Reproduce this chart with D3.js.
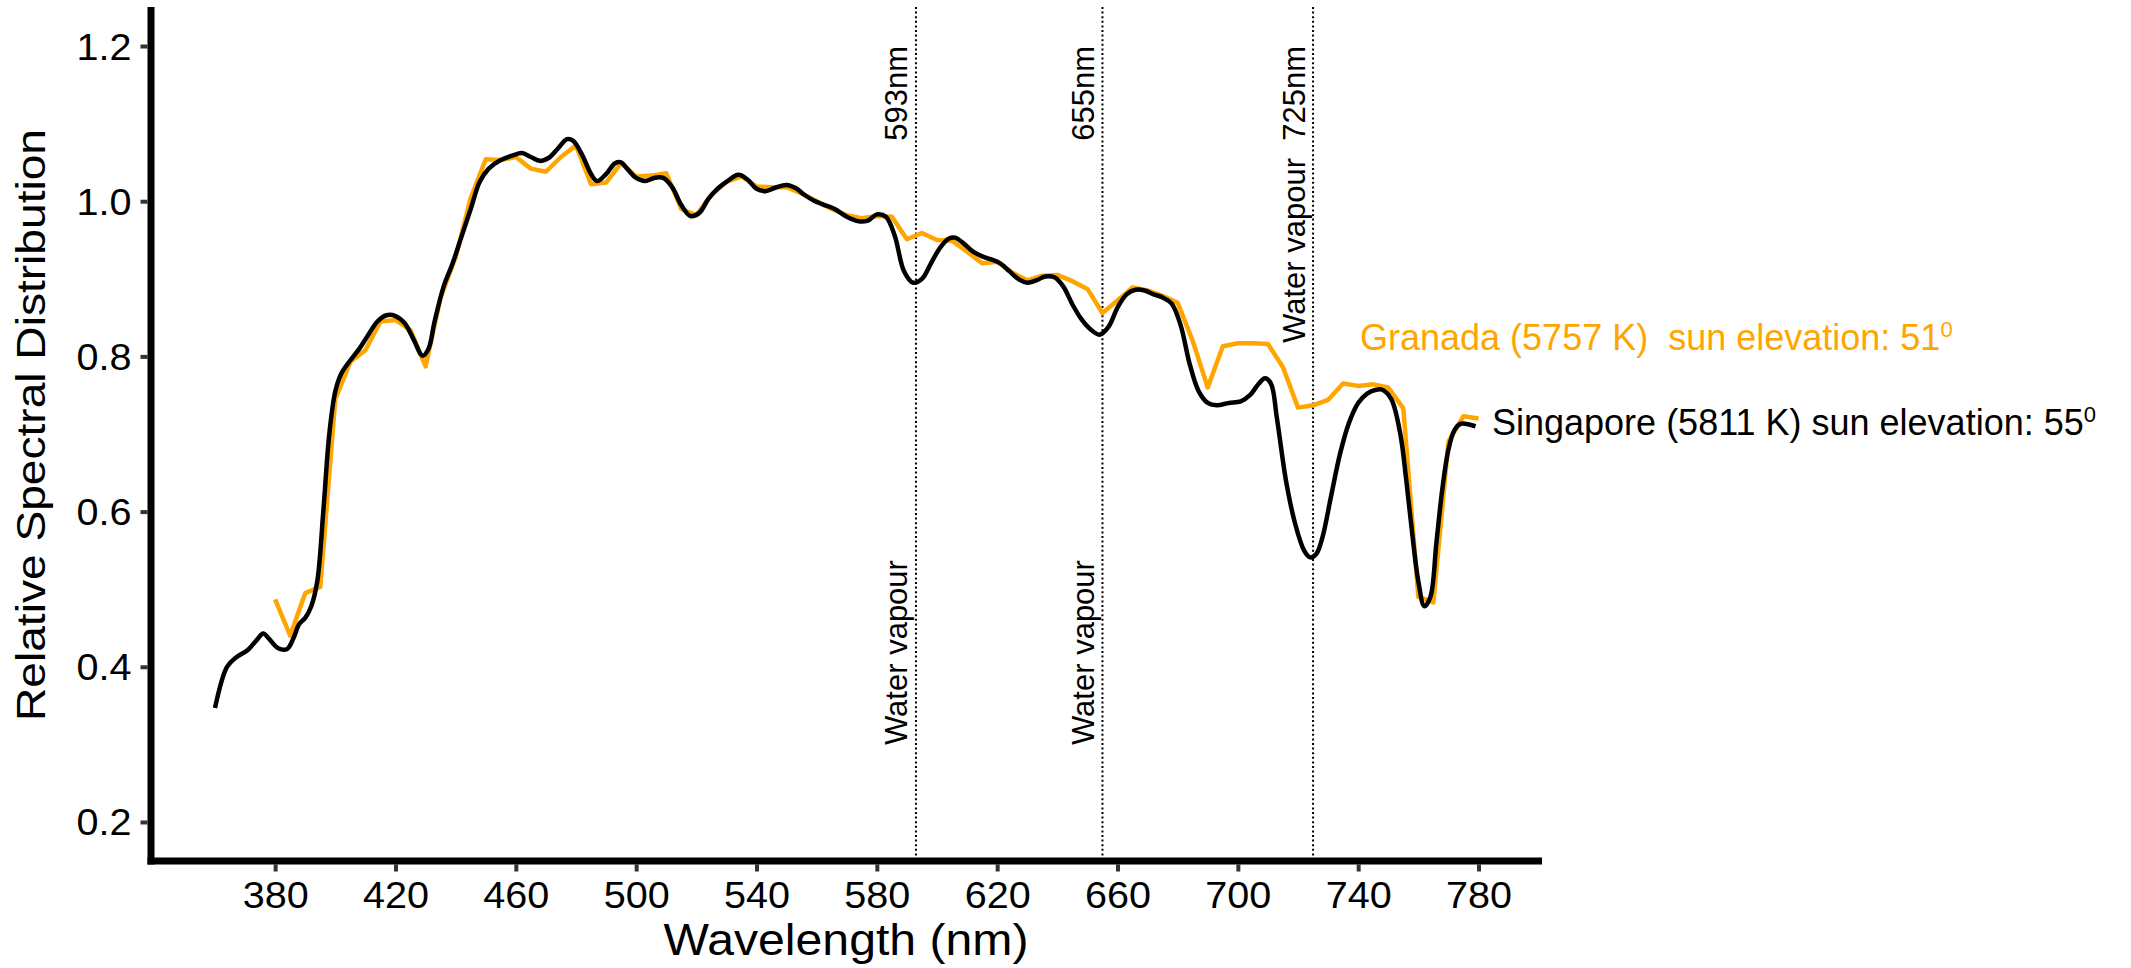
<!DOCTYPE html>
<meta charset="utf-8">
<head>
  <title>Relative spectral distribution</title>
</head>
<style>
  body { margin: 0; background: #fff; }
  text { font-family: "Liberation Sans", Arial, sans-serif; }
</style>
<body>
<svg width="2131" height="968"></svg>
<script src="https://cdn.jsdelivr.net/npm/d3@7"></script>
<script>

// Singapore (black, smooth) - wavelength nm
var sgNm = [360,364,367,371,374,376,378,381,384,386,388,390,392,394,396,398,400,402,405,408,
  411,414,417,420,423,426,429,431,433,436,439,442,445,448,451,455,459,462,465,468,
  471,474,477,479,482,485,487,490,493,495,497,500,503,506,509,512,515,518,521,524,
  527,530,534,537,540,543,546,550,553,556,559,562,566,570,574,577,580,583,586,589,
  592,595,598,601,604,606,609,612,615,618,621,624,627,630,633,636,639,642,645,648,
  651,654,657,660,663,666,669,672,675,678,681,684,687,690,693,697,701,704,707,709,
  711,713,716,719,722,724,726,728,731,734,737,740,743,746,748,751,754,756,758,760,
  762,764,766,768,770,772,774,776,779];
var sgVal = [0.347,0.40,0.412,0.422,0.435,0.443,0.436,0.424,0.423,0.436,0.455,0.463,0.478,0.51,0.60,0.70,0.755,0.778,0.795,0.81,
  0.828,0.845,0.853,0.852,0.843,0.822,0.801,0.81,0.845,0.89,0.92,0.955,0.99,1.025,1.042,1.053,1.059,1.062,1.057,1.052,
  1.056,1.068,1.08,1.078,1.06,1.035,1.026,1.035,1.049,1.05,1.042,1.03,1.026,1.03,1.03,1.018,0.995,0.981,0.985,1.003,
  1.016,1.025,1.034,1.028,1.016,1.013,1.017,1.021,1.017,1.008,1.001,0.996,0.99,0.98,0.974,0.975,0.983,0.98,0.955,0.91,
  0.895,0.9,0.92,0.94,0.952,0.953,0.945,0.935,0.929,0.925,0.92,0.91,0.90,0.895,0.898,0.903,0.902,0.89,0.867,0.848,
  0.835,0.828,0.838,0.863,0.88,0.886,0.885,0.88,0.876,0.868,0.84,0.79,0.755,0.74,0.737,0.74,0.742,0.75,0.765,0.772,
  0.765,0.72,0.64,0.585,0.55,0.541,0.545,0.565,0.62,0.675,0.715,0.74,0.752,0.757,0.757,0.745,0.70,0.64,0.57,0.51,
  0.478,0.49,0.56,0.63,0.68,0.705,0.713,0.713,0.71];

// Granada (orange, straight segments)
var grNm = [380,385,390,395,400,405,410,415,420,425,430,435,440,445,450,455,460,465,470,475,
  480,485,490,495,500,505,510,515,520,525,530,535,540,545,550,555,560,565,570,575,
  580,585,590,595,600,605,610,615,620,625,630,635,640,645,650,655,660,665,670,675,
  680,685,690,695,700,705,710,715,720,725,730,735,740,745,750,755,760,765,770,775,780];
var grVal = [0.487,0.44,0.495,0.503,0.745,0.793,0.808,0.845,0.847,0.834,0.787,0.876,0.928,1.004,1.054,1.053,1.057,1.042,1.038,1.057,
  1.072,1.022,1.024,1.049,1.032,1.033,1.036,0.99,0.982,1.008,1.025,1.032,1.019,1.018,1.018,1.01,1.0,0.99,0.982,0.978,
  0.981,0.98,0.951,0.959,0.95,0.949,0.935,0.92,0.922,0.908,0.898,0.904,0.905,0.897,0.887,0.856,0.872,0.889,0.885,0.878,
  0.869,0.82,0.76,0.813,0.817,0.817,0.816,0.786,0.734,0.737,0.744,0.765,0.762,0.764,0.76,0.733,0.49,0.483,0.69,0.723,0.72];

var xTicks = [380,420,460,500,540,580,620,660,700,740,780];
var yTicks = [0.2,0.4,0.6,0.8,1.0,1.2];

var markNm = [593,655,725];
var markTop = ["593nm","655nm","Water vapour  725nm"];
var markBottom = ["Water vapour","Water vapour",""];

var svg = d3.select("svg");

var x = d3.scaleLinear().domain([338.4, 801.1]).range([150, 1542]);
var y = d3.scaleLinear().domain([0.1497, 1.2503]).range([861, 7]);

// vertical dotted reference lines
svg.selectAll(".vline")
  .data(markNm)
  .enter().append("line")
  .attr("class","vline")
  .attr("x1", d => x(d)).attr("x2", d => x(d))
  .attr("y1", 7).attr("y2", 858)
  .style("stroke","#000")
  .style("stroke-width",2)
  .style("stroke-dasharray","2,2.6");

svg.selectAll(".toplab")
  .data(markNm)
  .enter().append("text")
  .attr("class","toplab")
  .attr("transform", d => "translate(" + (x(d) - 8.5) + ",46) rotate(-90)")
  .attr("text-anchor","end")
  .style("font-size","31px")
  .style("white-space","pre")
  .text((d,i) => markTop[i]);

svg.selectAll(".botlab")
  .data(markNm)
  .enter().append("text")
  .attr("class","botlab")
  .attr("transform", d => "translate(" + (x(d) - 8.5) + ",745) rotate(-90)")
  .attr("text-anchor","start")
  .style("font-size","31px")
  .text((d,i) => markBottom[i]);

// series
var granada = grNm.map((d,i) => [d, grVal[i]]);
var singapore = sgNm.map((d,i) => [d, sgVal[i]]);

var lineStraight = d3.line().x(d => x(d[0])).y(d => y(d[1]));
var lineSmooth = d3.line().x(d => x(d[0])).y(d => y(d[1])).curve(d3.curveCatmullRom.alpha(0.5));

svg.append("path")
  .attr("d", lineStraight(granada))
  .style("fill","none")
  .style("stroke","#FFA500")
  .style("stroke-width",4.5)
  .style("stroke-linejoin","round");

svg.append("path")
  .attr("d", lineSmooth(singapore))
  .style("fill","none")
  .style("stroke","#000")
  .style("stroke-width",4.5)
  .style("stroke-linejoin","round");

// axes
var xAxis = svg.append("g")
  .attr("transform","translate(0,864.5)")
  .call(d3.axisBottom(x).tickValues(xTicks).tickSize(7).tickFormat(d3.format("d")));
xAxis.select(".domain").remove();
xAxis.selectAll(".tick line").style("stroke","#333").style("stroke-width",4);
xAxis.selectAll(".tick text")
  .attr("y", 43).attr("dy", 0)
  .style("font-size","36px").style("fill","#000")
  .attr("textLength", 66).attr("lengthAdjust","spacingAndGlyphs");

var yAxis = svg.append("g")
  .attr("transform","translate(147.5,0)")
  .call(d3.axisLeft(y).tickValues(yTicks).tickSize(7).tickFormat(d3.format(".1f")));
yAxis.select(".domain").remove();
yAxis.selectAll(".tick line").style("stroke","#333").style("stroke-width",4);
yAxis.selectAll(".tick text")
  .attr("x", -16).attr("dy", 13)
  .style("font-size","37px").style("fill","#000")
  .attr("textLength", 55).attr("lengthAdjust","spacingAndGlyphs");

svg.append("line")
  .attr("x1",151).attr("x2",151).attr("y1",7).attr("y2",864.5)
  .style("stroke","#000").style("stroke-width",7);
svg.append("line")
  .attr("x1",147.5).attr("x2",1542).attr("y1",861).attr("y2",861)
  .style("stroke","#000").style("stroke-width",7);

// axis titles
svg.append("text")
  .attr("x", 846).attr("y", 955)
  .attr("text-anchor","middle")
  .style("font-size","45px")
  .attr("textLength", 365).attr("lengthAdjust","spacingAndGlyphs")
  .text("Wavelength (nm)");

svg.append("text")
  .attr("transform","translate(45,425) rotate(-90)")
  .attr("text-anchor","middle")
  .style("font-size","40px")
  .attr("textLength", 592).attr("lengthAdjust","spacingAndGlyphs")
  .text("Relative Spectral Distribution");

// series labels
var gl = svg.append("text")
  .attr("x", 1360).attr("y", 350)
  .style("font-size","36px").style("fill","#FFA500")
  .style("white-space","pre");
gl.append("tspan").text("Granada (5757 K)  sun elevation: 51");
gl.append("tspan").attr("dy",-13).style("font-size","22px").text("0");

var sl = svg.append("text")
  .attr("x", 1492).attr("y", 435)
  .style("font-size","36px").style("fill","#000")
  .style("white-space","pre");
sl.append("tspan").text("Singapore (5811 K) sun elevation: 55");
sl.append("tspan").attr("dy",-13).style("font-size","22px").text("0");

</script>
</body>
</html>
